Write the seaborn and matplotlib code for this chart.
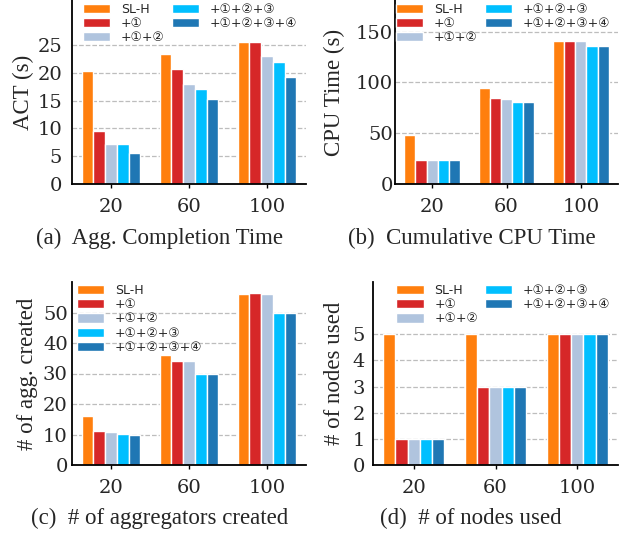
import numpy as np
import pandas as pd
import seaborn as sns
import matplotlib.pyplot as plt

# 5 variants (ablation), 3 workload sizes
sizes = ["20", "60", "100"]
variants = ["SL-H", "+①", "+①+②", "+①+②+③", "+①+②+③+④"]
colors = ["#ff7f0e", "#d62728", "#b0c4de", "#00bfff", "#1f77b4"]

# values per variant, in order of sizes
act = [[20.4, 23.3, 25.5],
       [9.6, 20.6, 25.5],
       [7.2, 18.0, 23.1],
       [7.2, 17.1, 22.0],
       [5.6, 15.3, 19.3]]
cpu = [[48.2, 94.5, 140.8],
       [23.6, 84.7, 140.8],
       [23.6, 83.7, 140.8],
       [23.6, 80.7, 135.9],
       [23.6, 80.7, 135.9]]
aggs = [[16.0, 36.0, 56.0],
        [11.1, 34.1, 56.3],
        [10.8, 34.1, 56.0],
        [10.2, 30.0, 50.0],
        [9.8, 30.0, 50.0]]
nodes = [[5, 5, 5],
         [1, 3, 5],
         [1, 3, 5],
         [1, 3, 5],
         [1, 3, 5]]


def to_frame(values):
    rows = []
    for v, vals in zip(variants, values):
        for s, y in zip(sizes, vals):
            rows.append({"size": s, "variant": v, "value": y})
    return pd.DataFrame(rows)


sns.set_theme(style="white")
plt.rcParams["font.family"] = ["DejaVu Sans", "Noto Sans CJK JP"]

W, H = 624, 537
fig = plt.figure(figsize=(W / 100, H / 100), dpi=100)


def px_axes(l, r, t, b):
    return fig.add_axes([l / W, 1 - b / H, (r - l) / W, (b - t) / H])


panels = [
    # (data, rect px l,r,t,b, ylim, yticks, ylabel, caption, caption xy, legend/pad opts)
    (act, (72, 306, 0, 184), 33.1, [0, 5, 10, 15, 20, 25], "ACT (s)",
     "(a)  Agg. Completion Time", (159, 238),
     dict(ncol=2, anchor=(0.047, 0.985), ypad=7.2, lpad=2)),
    (cpu, (395, 618, 0, 184), 181, [0, 50, 100, 150], "CPU Time (s)",
     "(b)  Cumulative CPU Time", (472, 238),
     dict(ncol=2, anchor=(0.004, 0.985), ypad=1.5, lpad=8)),
    (aggs, (72, 306, 282, 465), 60, [0, 10, 20, 30, 40, 50], "# of agg. created",
     "(c)  # of aggregators created", (160, 518),
     dict(ncol=1, anchor=(0.021, 0.99), ypad=3, lpad=3.5)),
    (nodes, (373, 618, 282, 465), 7, [0, 1, 2, 3, 4, 5], "# of nodes used",
     "(d)  # of nodes used", (471, 518),
     dict(ncol=2, anchor=(0.094, 0.99), ypad=6, lpad=5)),
]

for values, rect, ytop, yticks, ylabel, caption, cxy, opt in panels:
    ax = px_axes(*rect)
    df = to_frame(values)
    sns.barplot(data=df, x="size", y="value", hue="variant", order=sizes,
                hue_order=variants, palette=colors, width=0.75, saturation=1,
                ax=ax, errorbar=None)
    ax.set_xlim(-0.5, 2.5)
    ax.set_ylim(0, ytop)
    ax.set_yticks(yticks)
    ax.set_xlabel("")
    ax.set_ylabel(ylabel, fontsize=16.5, family="Liberation Serif", labelpad=opt["lpad"])
    ax.tick_params(axis="both", labelsize=14, labelfontfamily="DejaVu Serif")
    ax.tick_params(axis="x", length=3, width=1, pad=7, color="black", bottom=True)
    ax.tick_params(axis="y", length=0, pad=opt["ypad"])
    ax.yaxis.grid(True, linestyle="--", color="#bdbdbd", linewidth=0.9)
    ax.xaxis.grid(False)
    ax.set_axisbelow(True)
    sns.despine(ax=ax)
    for side in ["left", "bottom"]:
        ax.spines[side].set_color("black")
        ax.spines[side].set_linewidth(1.3)

    ax.legend(loc="upper left", bbox_to_anchor=opt["anchor"], ncol=opt["ncol"],
              frameon=False, fontsize=9, borderpad=0, borderaxespad=0,
              handlelength=2.2, handleheight=0.75, handletextpad=0.85,
              columnspacing=0.55, labelspacing=0.1)

    fig.text(cxy[0] / W, 1 - cxy[1] / H, caption, ha="center", va="center",
             fontsize=16.5, family="Liberation Serif")

fig.savefig("out.png", dpi=100)
